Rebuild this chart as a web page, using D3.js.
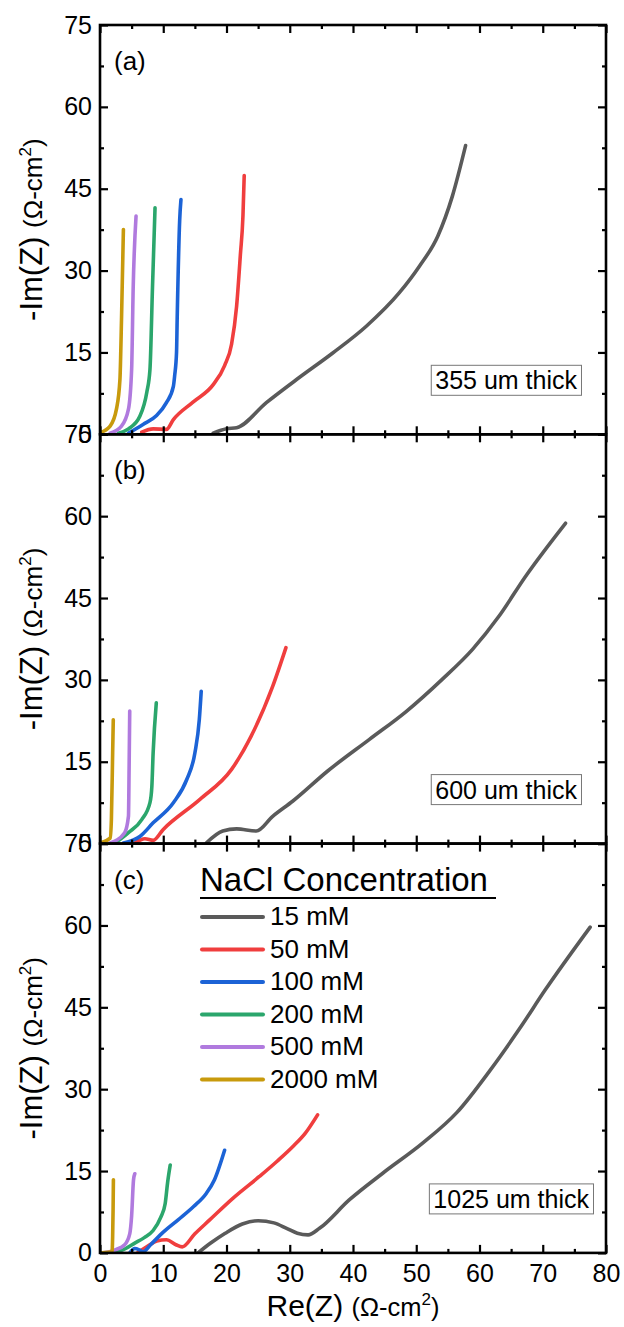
<!DOCTYPE html>
<html>
<head>
<meta charset="utf-8">
<script src="https://cdn.jsdelivr.net/npm/d3@7"></script>
<style>
  body { margin: 0; background: #fff; }
  svg { display: block; font-family: "Liberation Sans", Arial, sans-serif; }
</style>
</head>
<body>
<svg id="chart" width="624" height="1327"></svg>
<script>
// ---------- data ----------
const categories = ["15 mM", "50 mM", "100 mM", "200 mM", "500 mM", "2000 mM"];
const colors = ["#5a5a5a", "#f03e3e", "#1c63d6", "#2ba66c", "#b07ade", "#c89a0c"];
const panelLabels = ["(a)", "(b)", "(c)"];
const thicknessLabels = ["355 um thick", "600 um thick", "1025 um thick"];
const xTicks = [0, 10, 20, 30, 40, 50, 60, 70, 80];
const xMinorTicks = [5, 15, 25, 35, 45, 55, 65, 75];
const yTicks = [0, 15, 30, 45, 60, 75];
const yMinorTicks = [7.5, 22.5, 37.5, 52.5, 67.5];

// Panel (a) 355 um
const a15 = [[17.9,0.2],[20,1],[21.6,1.2],[26.3,5.8],[31.5,10.4],[36.8,14.9],[42.1,19.8],[47.3,25.9],[50.5,30.8],[53.4,36.3],[55.7,43.6],[57.8,52.9]];
const a50 = [[6.6,0.4],[8.4,1],[10.5,0.9],[11.6,2.7],[14.7,5.9],[17.9,9.1],[19.7,12.6],[20.8,16.5],[21.6,23.5],[22.2,33],[22.6,40],[22.8,47.4]];
const a100 = [[4.5,0.2],[6.8,1.8],[8.9,3.4],[10.5,5.8],[11.6,8.8],[11.8,10.7],[12.1,15],[12.2,21],[12.6,39.3],[12.8,43]];
const a200 = [[2.9,0.2],[4.5,1],[6.3,3.3],[7.4,7.7],[7.9,11.9],[8.3,27],[8.7,41.5]];
const a500 = [[1.6,0.2],[3.4,1.5],[4.5,4.6],[5,11.9],[5.25,27],[5.7,40]];
const a2000 = [[0,0.3],[1.6,1.5],[2.6,4.6],[3.15,10],[3.4,21],[3.7,37.5]];

// Panel (b) 600 um
const b15 = [[16.8,0.1],[19.4,2.3],[21.6,2.7],[24.7,2.3],[27.3,5],[30.5,7.8],[36,13.3],[42.6,19.1],[48.4,24.2],[54.1,30.1],[58.9,35.6],[63.1,41.7],[67.3,49],[73.6,58.7]];
const b50 = [[5.5,0.1],[7.1,0.9],[8.4,0.6],[10,2.6],[15.8,8.1],[20.8,13.6],[23.9,19.7],[27.3,28.8],[29.4,35.9]];
const b100 = [[3.7,0.1],[6.3,1.3],[8.4,3.8],[11.6,7.5],[13.7,11.7],[15,16.6],[15.7,22.7],[16,27.9]];
const b200 = [[2.4,0.1],[4.5,2],[6.6,4.4],[7.9,7.5],[8.2,10.5],[8.4,16.6],[8.9,25.8]];
const b500 = [[1.6,0.1],[3.9,2],[4.5,5],[4.6,13.6],[4.7,24.3]];
const b2000 = [[0,0.1],[1.6,1],[1.8,4.4],[2.0,16.6],[2.1,22.7]];

// Panel (c) 1025 um
const c15 = [[15.5,0],[17.5,1.8],[19.8,3.6],[22.5,5.3],[25,5.9],[27.5,5.5],[29.5,4.5],[31.2,3.6],[32.9,3.3],[34.7,4.5],[39.4,9.7],[44.7,14.6],[51.1,20.2],[56.4,25.7],[61.7,33.5],[66.4,41.2],[70.4,48.2],[77.5,59.7]];
const c50 = [[5.9,0],[7.5,1.2],[9,2.2],[10.5,2.4],[12,1.5],[13,1.1],[15,3.5],[17.3,6],[21,10],[25.2,14],[28,16.8],[30.5,19.5],[32.5,22],[34.4,25.3]];
const c100 = [[4.7,0],[5.5,0.8],[6.3,0.5],[6.8,0.2],[8,1.5],[10,3.8],[12.4,6.1],[14.8,8.5],[16.8,10.9],[18.1,13.4],[19.7,18.8]];
const c200 = [[2.2,0],[3.5,0.5],[5.5,1.8],[7,2.8],[8.4,4.1],[9.6,6.5],[10.3,9],[10.7,13],[11.1,16.1]];
const c500 = [[0.5,0],[2.5,0.6],[3.9,1.5],[4.7,3.5],[5,6.8],[5.3,13.4],[5.5,14.5]];
const c2000 = [[0.3,0],[1.9,0.2],[2.0,3],[2.07,8],[2.12,13.4]];

const panelSeries = [
  [a15, a50, a100, a200, a500, a2000],
  [b15, b50, b100, b200, b500, b2000],
  [c15, c50, c100, c200, c500, c2000]
];

// ---------- layout ----------
const svg = d3.select("#chart");
const left = 100, right = 606;
const panelTop0 = 25, panelH = 409.3;
const x = d3.scaleLinear().domain([0, 80]).range([left, right]);
const fontTick = 25;
const FONT = '"Liberation Sans", Arial, sans-serif';

panelSeries.forEach((series, i) => {
  const top = panelTop0 + i * panelH;
  const bottom = top + panelH;
  const y = d3.scaleLinear().domain([0, 75]).range([bottom, top]);
  const g = svg.append("g");

  const clipId = "clip" + i;
  svg.append("clipPath").attr("id", clipId).append("rect")
    .attr("x", left).attr("y", top).attr("width", right - left).attr("height", panelH);

  const line = d3.line().x(d => x(d[0])).y(d => y(d[1])).curve(d3.curveMonotoneX);
  const curves = g.append("g").attr("clip-path", `url(#${clipId})`);
  series.forEach((s, k) => {
    curves.append("path").datum(s).attr("d", line)
      .attr("fill", "none").attr("stroke", colors[k]).attr("stroke-width", 3.6)
      .attr("stroke-linecap", "round").attr("stroke-linejoin", "round");
  });

  const styleAxis = sel => {
    sel.select(".domain").remove();
    sel.selectAll(".tick line").attr("stroke", "#000").attr("stroke-width", 2.2);
    sel.selectAll(".tick text").attr("fill", "#000").style("font-size", fontTick + "px")
      .style("font-family", FONT);
  };
  const bottomAx = g.append("g").attr("transform", `translate(0,${bottom})`)
    .call(d3.axisBottom(x).tickValues(xTicks).tickSize(-8).tickPadding(11)
      .tickFormat(i === 2 ? d3.format("d") : () => ""));
  styleAxis(bottomAx);
  const bottomMin = g.append("g").attr("transform", `translate(0,${bottom})`)
    .call(d3.axisBottom(x).tickValues(xMinorTicks).tickSize(-4).tickFormat(() => ""));
  styleAxis(bottomMin);
  const topAx = g.append("g").attr("transform", `translate(0,${top})`)
    .call(d3.axisTop(x).tickValues(xTicks).tickSize(-8).tickFormat(() => ""));
  styleAxis(topAx);
  const topMin = g.append("g").attr("transform", `translate(0,${top})`)
    .call(d3.axisTop(x).tickValues(xMinorTicks).tickSize(-4).tickFormat(() => ""));
  styleAxis(topMin);

  const leftAx = g.append("g").attr("transform", `translate(${left},0)`)
    .call(d3.axisLeft(y).tickValues(yTicks).tickSize(-8).tickPadding(8).tickFormat(d3.format("d")));
  styleAxis(leftAx);
  const leftMin = g.append("g").attr("transform", `translate(${left},0)`)
    .call(d3.axisLeft(y).tickValues(yMinorTicks).tickSize(-4).tickFormat(() => ""));
  styleAxis(leftMin);
  const rightAx = g.append("g").attr("transform", `translate(${right},0)`)
    .call(d3.axisRight(y).tickValues(yTicks).tickSize(-8).tickFormat(() => ""));
  styleAxis(rightAx);
  const rightMin = g.append("g").attr("transform", `translate(${right},0)`)
    .call(d3.axisRight(y).tickValues(yMinorTicks).tickSize(-4).tickFormat(() => ""));
  styleAxis(rightMin);

  g.append("rect").attr("x", left).attr("y", top).attr("width", right - left).attr("height", panelH)
    .attr("fill", "none").attr("stroke", "#000").attr("stroke-width", 2.6);

  g.append("text").attr("x", 114).attr("y", top + 45).text(panelLabels[i])
    .style("font-size", "26px").attr("fill", "#000");

  // thickness box
  const boxRight = i === 2 ? 593 : 581;
  const boxRect = g.append("rect");
  const bt = g.append("text").attr("x", boxRight - 4).attr("y", bottom - 45)
    .attr("text-anchor", "end").text(thicknessLabels[i])
    .style("font-size", "25px").attr("fill", "#000");
  const bb = bt.node().getBBox();
  boxRect.attr("x", bb.x - 4).attr("y", bb.y - 1).attr("width", bb.width + 8).attr("height", bb.height + 2)
    .attr("fill", "#fff").attr("stroke", "#777").attr("stroke-width", 1);

  const yt = svg.append("text")
    .attr("transform", `translate(42,${(top + bottom) / 2}) rotate(-90)`)
    .attr("text-anchor", "middle").attr("fill", "#000");
  yt.append("tspan").text("-Im(Z) ").style("font-size", "31px");
  yt.append("tspan").text("(\u03A9-cm").style("font-size", "26px");
  yt.append("tspan").text("2").style("font-size", "17px").attr("dy", -11);
  yt.append("tspan").text(")").style("font-size", "26px").attr("dy", 11);
});

// x title
const xt = svg.append("text").attr("x", (left + right) / 2).attr("y", 1316)
  .attr("text-anchor", "middle").attr("fill", "#000");
xt.append("tspan").text("Re(Z) ").style("font-size", "30px");
xt.append("tspan").text("(\u03A9-cm").style("font-size", "25.5px");
xt.append("tspan").text("2").style("font-size", "17px").attr("dy", -11);
xt.append("tspan").text(")").style("font-size", "25.5px").attr("dy", 11);

// legend
const lg = svg.append("g");
lg.append("text").attr("x", 200).attr("y", 891).text("NaCl Concentration")
  .style("font-size", "33px").attr("fill", "#000");
lg.append("line").attr("x1", 200).attr("x2", 496).attr("y1", 898).attr("y2", 898)
  .attr("stroke", "#000").attr("stroke-width", 2);
categories.forEach((c, k) => {
  const by = 925 + k * 32.5;
  lg.append("line").attr("x1", 202).attr("x2", 263).attr("y1", by - 8).attr("y2", by - 8)
    .attr("stroke", colors[k]).attr("stroke-width", 4).attr("stroke-linecap", "round");
  lg.append("text").attr("x", 270).attr("y", by).text(c)
    .style("font-size", "26px").attr("fill", "#000");
});
</script>
</body>
</html>
